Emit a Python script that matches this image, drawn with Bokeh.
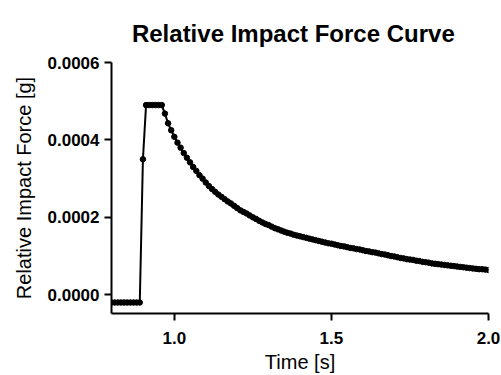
from bokeh.plotting import figure
from bokeh.models import Range1d, FixedTicker, PrintfTickFormatter
from bokeh.embed import file_html
from bokeh.resources import INLINE

# Time [s]
time_s = [
    0.80, 0.81, 0.82, 0.83, 0.84, 0.85, 0.86, 0.87, 0.88, 0.89,
    0.90, 0.91, 0.92, 0.93, 0.94, 0.95, 0.96, 0.97, 0.98, 0.99,
    1.00, 1.01, 1.02, 1.03, 1.04, 1.05, 1.06, 1.07, 1.08, 1.09,
    1.10, 1.11, 1.12, 1.13, 1.14, 1.15, 1.16, 1.17, 1.18, 1.19,
    1.20, 1.21, 1.22, 1.23, 1.24, 1.25, 1.26, 1.27, 1.28, 1.29,
    1.30, 1.31, 1.32, 1.33, 1.34, 1.35, 1.36, 1.37, 1.38, 1.39,
    1.40, 1.41, 1.42, 1.43, 1.44, 1.45, 1.46, 1.47, 1.48, 1.49,
    1.50, 1.51, 1.52, 1.53, 1.54, 1.55, 1.56, 1.57, 1.58, 1.59,
    1.60, 1.61, 1.62, 1.63, 1.64, 1.65, 1.66, 1.67, 1.68, 1.69,
    1.70, 1.71, 1.72, 1.73, 1.74, 1.75, 1.76, 1.77, 1.78, 1.79,
    1.80, 1.81, 1.82, 1.83, 1.84, 1.85, 1.86, 1.87, 1.88, 1.89,
    1.90, 1.91, 1.92, 1.93, 1.94, 1.95, 1.96, 1.97, 1.98, 1.99,
    2.00,
]

# Relative impact force [g]
force_g = [
    -0.00002, -0.00002, -0.00002, -0.00002, -0.00002, -0.00002, -0.00002, -0.00002, -0.00002, -0.00002,
    0.00035, 0.00049, 0.00049, 0.00049, 0.00049, 0.00049, 0.00049, 0.000468, 0.000443, 0.000425,
    0.000408, 0.000393, 0.00038, 0.000366, 0.000354, 0.000342, 0.00033, 0.00032, 0.000309, 0.0003,
    0.00029, 0.000281, 0.000273, 0.000266, 0.000259, 0.000253, 0.000247, 0.000241, 0.000236, 0.00023,
    0.000224, 0.000218, 0.000214, 0.00021, 0.000205, 0.0002, 0.000196, 0.000191, 0.000187, 0.000183,
    0.00018, 0.000176, 0.000172, 0.000169, 0.000166, 0.000163, 0.00016, 0.000158, 0.000155, 0.000153,
    0.000151, 0.000149, 0.000147, 0.000145, 0.000143, 0.000141, 0.000139, 0.000137, 0.000135, 0.000133,
    0.000132, 0.00013, 0.000128, 0.000126, 0.000125, 0.000123, 0.000121, 0.00012, 0.000118, 0.000117,
    0.000115, 0.000113, 0.000112, 0.00011, 0.000109, 0.000107, 0.000105, 0.000104, 0.000102, 0.0001,
    0.000099, 0.000097, 0.000095, 0.000094, 0.000092, 0.000091, 0.00009, 0.000088, 0.000087, 0.000085,
    0.000084, 0.000083, 0.000081, 0.00008, 0.000079, 0.000078, 0.000077, 0.000076, 0.000075, 0.000074,
    0.000073, 0.000072, 0.000071, 0.00007, 0.000069, 0.000068, 0.000067, 0.000066, 0.000066, 0.000065,
    0.000064,
]

x_ticks = [1.0, 1.5, 2.0]
y_ticks = [0.0, 0.0002, 0.0004, 0.0006]
title_text = "Relative  Impact  Force Curve"

FONT = "Liberation Sans"

p = figure(
    width=501, height=375,
    output_backend="svg", toolbar_location=None,
    x_range=Range1d(0.8, 2.0), y_range=Range1d(-0.0000484, 0.0006),
    min_border_left=111, min_border_right=13,
    min_border_top=62, min_border_bottom=62,
    title=title_text,
)
p.outline_line_color = None
p.xgrid.visible = False
p.ygrid.visible = False
p.background_fill_color = "white"
p.border_fill_color = "white"

p.title.align = "center"
p.title.vertical_align = "top"
p.title.text_font = FONT
p.title.text_font_size = "24px"
p.title.text_font_style = "bold"
p.title.text_color = "black"
p.title.standoff = 28

for ax in (p.xaxis[0], p.yaxis[0]):
    ax.axis_line_color = "black"
    ax.axis_line_width = 2
    ax.major_tick_line_color = "black"
    ax.major_tick_line_width = 2
    ax.major_tick_out = 7
    ax.major_tick_in = 0
    ax.minor_tick_line_color = None
    ax.major_label_text_font = FONT
    ax.major_label_text_font_size = "17px"
    ax.major_label_text_font_style = "bold"
    ax.major_label_text_color = "black"
    ax.axis_label_text_font = FONT
    ax.axis_label_text_font_size = "20px"
    ax.axis_label_text_font_style = "normal"
    ax.axis_label_text_color = "black"

p.xaxis[0].ticker = FixedTicker(ticks=x_ticks)
p.xaxis[0].formatter = PrintfTickFormatter(format="%.1f")
p.xaxis[0].axis_label = "Time [s]"
p.xaxis[0].major_label_standoff = 11
p.xaxis[0].axis_label_standoff = 4

p.yaxis[0].ticker = FixedTicker(ticks=y_ticks)
p.yaxis[0].formatter = PrintfTickFormatter(format="%.4f")
p.yaxis[0].axis_label = "Relative Impact Force [g]"
p.yaxis[0].major_label_standoff = 5
p.yaxis[0].axis_label_standoff = 10

p.line(time_s, force_g, line_color="black", line_width=2)
p.scatter(time_s, force_g, size=5.5, fill_color="black", line_color="black")

open("out.html", "w").write(file_html(p, INLINE))
